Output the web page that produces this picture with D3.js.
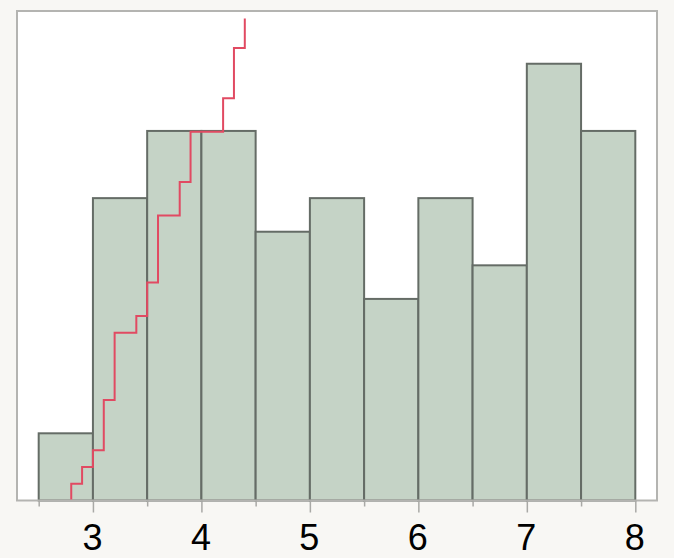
<!DOCTYPE html>
<html>
<head>
<meta charset="utf-8">
<script src="https://cdn.jsdelivr.net/npm/d3@7"></script>
<style>
  html, body { margin: 0; padding: 0; background: #f8f7f4; }
  svg { display: block; }
</style>
</head>
<body>
<svg id="chart" width="674" height="558"></svg>
<script>
// Histogram bins (lower edges, width 0.5) and counts
const binStarts = [2.5, 3.0, 3.5, 4.0, 4.5, 5.0, 5.5, 6.0, 6.5, 7.0, 7.5];
const binWidth = 0.5;
const counts = [2, 9, 11, 11, 8, 9, 6, 9, 7, 13, 11];

// Step line (red): x positions and cumulative levels
const stepX = [2.8, 2.9, 3.0, 3.1, 3.2, 3.4, 3.5, 3.6, 3.8, 3.9, 4.2, 4.3, 4.4];
const stepY = [1, 2, 3, 6, 10, 11, 13, 17, 19, 22, 24, 27, 28.75];

// Axis ticks
const majorTicks = [3, 4, 5, 6, 7, 8];
const minorTicks = [2.5, 3.5, 4.5, 5.5, 6.5, 7.5];

const svg = d3.select("#chart");
const frame = { left: 17, top: 11, right: 657, bottom: 500.5 };

const x = d3.scaleLinear().domain([2.3, 8.2]).range([frame.left, frame.right]);
const y = d3.scaleLinear().domain([0, 14.57]).range([frame.bottom, frame.top]);
const yStep = d3.scaleLinear().domain([0, 29.2]).range([frame.bottom, frame.top]);

// plot background
svg.append("rect")
  .attr("x", frame.left).attr("y", frame.top)
  .attr("width", frame.right - frame.left).attr("height", frame.bottom - frame.top)
  .attr("fill", "#ffffff");

// bars
svg.append("g").selectAll("rect")
  .data(binStarts.map((s, i) => ({ s, c: counts[i] })))
  .join("rect")
  .attr("x", d => x(d.s))
  .attr("y", d => y(d.c))
  .attr("width", d => x(d.s + binWidth) - x(d.s))
  .attr("height", d => y(0) - y(d.c))
  .attr("fill", "#c5d3c6")
  .attr("stroke", "#656c66")
  .attr("stroke-width", 2);

// step line
const pts = [[stepX[0], 0]].concat(stepX.map((v, i) => [v, stepY[i]]));
svg.append("path")
  .datum(pts)
  .attr("fill", "none")
  .attr("stroke", "#e14a62")
  .attr("stroke-width", 2)
  .attr("d", d3.line().x(d => x(d[0])).y(d => yStep(d[1])).curve(d3.curveStepAfter));

// frame
svg.append("rect")
  .attr("x", frame.left).attr("y", frame.top)
  .attr("width", frame.right - frame.left).attr("height", frame.bottom - frame.top)
  .attr("fill", "none")
  .attr("stroke", "#b4b4b1")
  .attr("stroke-width", 2);

// minor ticks
svg.append("g")
  .attr("transform", `translate(0,${frame.bottom})`)
  .call(d3.axisBottom(x).tickValues(minorTicks).tickSize(6).tickFormat(""))
  .call(g => g.select(".domain").remove())
  .call(g => g.selectAll("line").attr("stroke", "#a9a9a6").attr("stroke-width", 1.5));

// major ticks with labels
svg.append("g")
  .attr("transform", `translate(0,${frame.bottom})`)
  .call(d3.axisBottom(x).tickValues(majorTicks).tickSize(12).tickPadding(12).tickFormat(d3.format("d")))
  .call(g => g.select(".domain").remove())
  .call(g => g.selectAll("line").attr("stroke", "#a9a9a6").attr("stroke-width", 1.5))
  .call(g => g.selectAll("text")
    .attr("fill", "#000")
    .attr("font-family", "Liberation Sans, Arial, sans-serif")
    .attr("font-size", 36)
    .attr("dx", -1));
</script>
</body>
</html>
